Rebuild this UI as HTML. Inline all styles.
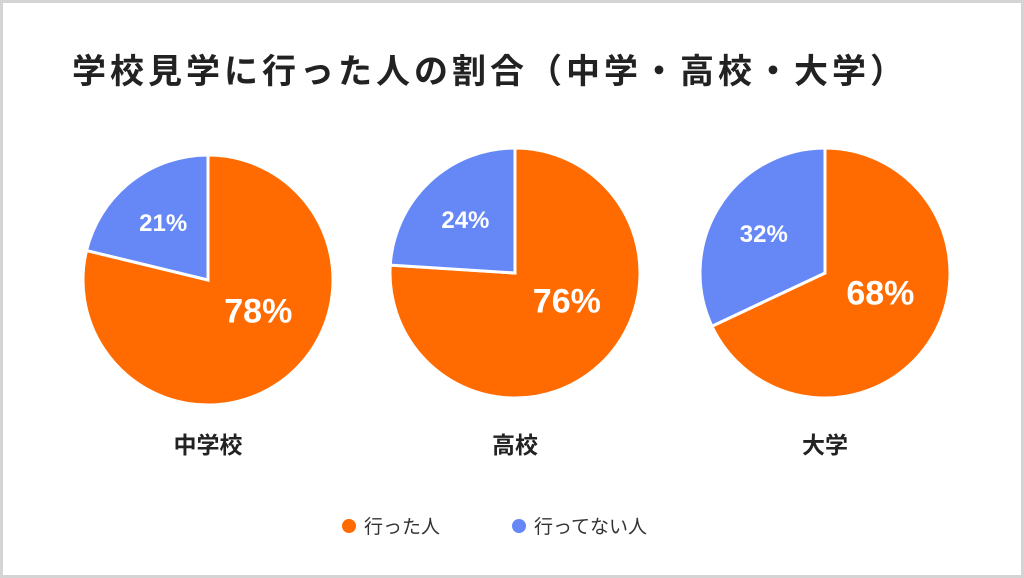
<!DOCTYPE html>
<html><head><meta charset="utf-8"><style>
html,body{margin:0;padding:0;background:#fff}
#wrap{position:relative;width:1024px;height:578px;box-sizing:border-box;border:3px solid #d4d4d4;background:#fff;overflow:hidden}
svg text{font-family:"Liberation Sans","Noto Sans CJK JP",sans-serif}
</style></head><body>
<div id="wrap">
<svg id="chart" width="1018" height="572" viewBox="3 3 1018 572">
<text x="490" y="83" text-anchor="middle" font-size="34" letter-spacing="4" font-weight="700" fill="#222">学校見学に行った人の割合（中学・高校・大学）</text>
<g id="pies"></g>
<g>
<circle cx="349" cy="526" r="7" fill="#FF6B00"></circle>
<text x="364" y="533" font-size="19" fill="#333">行った人</text>
<circle cx="519" cy="526" r="7" fill="#6688F7"></circle>
<text x="534" y="533" font-size="19" fill="#333">行ってない人</text>
</g>
</svg>
</div>
<script>
const categories = ["中学校", "高校", "大学"];
const wentValues = [78, 76, 68];
const notWentValues = [21, 24, 32];
const seriesNames = ["went", "not-went"];
const colors = ["#FF6B00", "#6688F7"];
const centers = [[208, 280], [515, 273], [825, 273]];
const R = 125;
const NS = "http://www.w3.org/2000/svg";
const g = document.getElementById("pies");
function pt(cx, cy, r, a) { return [cx + r * Math.sin(a), cy - r * Math.cos(a)]; }
categories.forEach((cat, i) => {
  const [cx, cy] = centers[i];
  const vals = [wentValues[i], notWentValues[i]];
  const total = vals[0] + vals[1];
  let start = 0;
  vals.forEach((v, j) => {
    const sweep = v / total * Math.PI * 2;
    const end = start + sweep;
    const p0 = pt(cx, cy, R, start), p1 = pt(cx, cy, R, end);
    const path = document.createElementNS(NS, "path");
    path.setAttribute("d", `M${cx},${cy} L${p0[0]},${p0[1]} A${R},${R} 0 ${sweep > Math.PI ? 1 : 0} 1 ${p1[0]},${p1[1]} Z`);
    path.setAttribute("fill", colors[j]);
    path.setAttribute("stroke", "#fff");
    path.setAttribute("stroke-width", "3");
    
    
    g.appendChild(path);
    const mid = (start + end) / 2;
    const big = v / total > 0.5;
    const ang = big ? (0.6 * mid + 0.4 * Math.PI / 2) : mid;
    const lp = pt(cx, cy, R * (big ? 0.47 : 0.58), ang);
    const t = document.createElementNS(NS, "text");
    t.setAttribute("x", lp[0]);
    t.setAttribute("y", lp[1] + (big ? 12 : 8));
    t.setAttribute("text-anchor", "middle");
    t.setAttribute("font-size", big ? "34" : "24");
    t.setAttribute("font-weight", "700");
    t.setAttribute("fill", "#fff");
    t.textContent = v + "%";
    
    
    g.appendChild(t);
    start = end;
  });
  const lab = document.createElementNS(NS, "text");
  lab.setAttribute("x", cx);
  lab.setAttribute("y", 453);
  lab.setAttribute("text-anchor", "middle");
  lab.setAttribute("font-size", "23");
  lab.setAttribute("font-weight", "700");
  lab.setAttribute("fill", "#222");
  lab.textContent = cat;
  
  
  g.appendChild(lab);
});
</script>
</body></html>
